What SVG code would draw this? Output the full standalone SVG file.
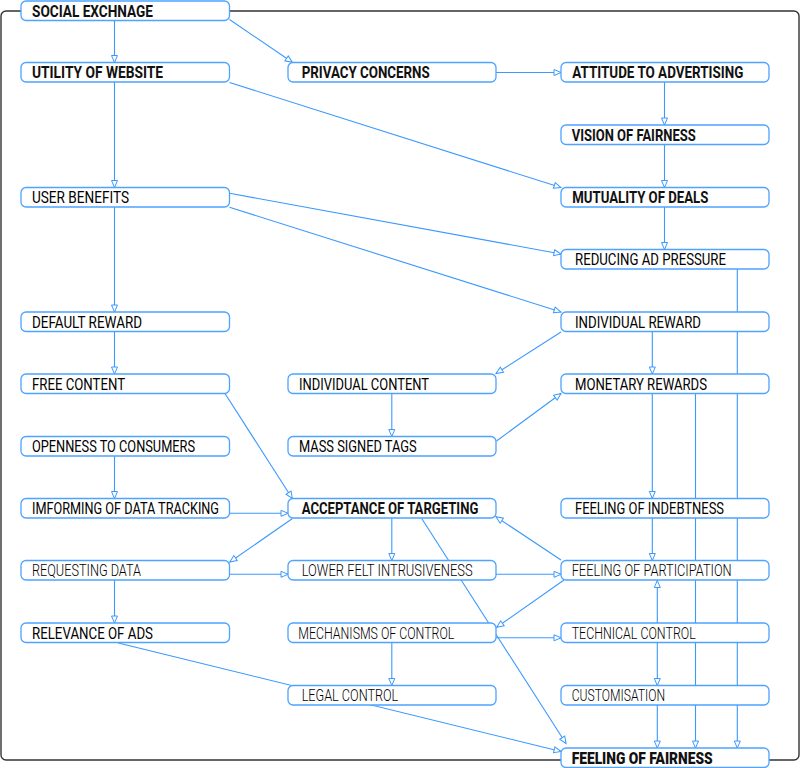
<svg xmlns="http://www.w3.org/2000/svg" width="800" height="768" viewBox="0 0 800 768">
<style>
.frame{fill:none;stroke:#333;stroke-width:1.4}
.box{fill:#fff;stroke:#4da3ff;stroke-width:1.3}
.t{font-family:Roboto,"Liberation Sans",sans-serif;font-size:16px;fill:#111}
.b{font-weight:700}
.m{font-weight:400;fill:#000}
.l{font-weight:300;fill:#000}
.h{font-weight:900}
#connectors path{fill:none;stroke:#3a98ff;stroke-width:1.1}
</style>
<defs>
<marker id="arr" viewBox="-1 -1 9 8" refX="7" refY="3" markerWidth="9" markerHeight="8" markerUnits="userSpaceOnUse" orient="auto" overflow="visible">
<path d="M0,0 L7,3 L0,6 Z" fill="#fff" stroke="#3a98ff" stroke-width="1"/>
</marker>
</defs>
<rect class="frame" x="1" y="11" width="798" height="749" rx="5"/>
<g id="connectors">
<path d="M114.5,20.5 V62.5" marker-end="url(#arr)"/>
<path d="M229.5,19.5 L292.3,62.3" marker-end="url(#arr)"/>
<path d="M496,72.5 H561" marker-end="url(#arr)"/>
<path d="M229.5,82.5 L561,187.5" marker-end="url(#arr)"/>
<path d="M114.5,82 V187.5" marker-end="url(#arr)"/>
<path d="M664.5,82 V125" marker-end="url(#arr)"/>
<path d="M664.5,144.5 V187.5" marker-end="url(#arr)"/>
<path d="M664.5,207 V249.5" marker-end="url(#arr)"/>
<path d="M229.5,193.3 L561,254" marker-end="url(#arr)"/>
<path d="M229.5,207.3 L561,312" marker-end="url(#arr)"/>
<path d="M114.5,207 V312" marker-end="url(#arr)"/>
<path d="M114.5,331.5 V374" marker-end="url(#arr)"/>
<path d="M737.3,269 V748" marker-end="url(#arr)"/>
<path d="M561,332 L496,373.5" marker-end="url(#arr)"/>
<path d="M652.3,331.5 V374" marker-end="url(#arr)"/>
<path d="M652.3,394 V498.5" marker-end="url(#arr)"/>
<path d="M695.5,394 V748" marker-end="url(#arr)"/>
<path d="M391.8,394 V436.5" marker-end="url(#arr)"/>
<path d="M496.5,441 L561,393.5" marker-end="url(#arr)"/>
<path d="M225,393.5 L292.3,498.5" marker-end="url(#arr)"/>
<path d="M114.5,456 V498.5" marker-end="url(#arr)"/>
<path d="M229.5,513.3 H288" marker-end="url(#arr)"/>
<path d="M292.5,518.5 L229.8,562" marker-end="url(#arr)"/>
<path d="M391.8,518 V560.5" marker-end="url(#arr)"/>
<path d="M421.7,518.5 L566,743.5" marker-end="url(#arr)"/>
<path d="M229.5,574.3 H288" marker-end="url(#arr)"/>
<path d="M114.5,580 V623" marker-end="url(#arr)"/>
<path d="M496,574.3 H561" marker-end="url(#arr)"/>
<path d="M652.3,518 V560.5" marker-end="url(#arr)"/>
<path d="M561,560 L496,516.8" marker-end="url(#arr)"/>
<path d="M564,580 L496.7,627.3" marker-end="url(#arr)"/>
<path d="M496,637.8 H561" marker-end="url(#arr)"/>
<path d="M391.8,642.5 V685.5" marker-end="url(#arr)"/>
<path d="M657.3,623 V580.5" marker-end="url(#arr)"/>
<path d="M657.3,642.5 V685.5" marker-end="url(#arr)"/>
<path d="M657.3,705 V748" marker-end="url(#arr)"/>
<path d="M118.3,643 L561,751.5" marker-end="url(#arr)"/>
</g>
<g id="social-exchange"><rect class="box" x="21" y="1" width="208.5" height="19.5" rx="5"/><text class="t b" x="32" y="16.7" textLength="121" lengthAdjust="spacingAndGlyphs">SOCIAL EXCHNAGE</text></g>
<g id="utility-of-website"><rect class="box" x="21" y="62.5" width="208.5" height="19.5" rx="5"/><text class="t b" x="32" y="78.2" textLength="131" lengthAdjust="spacingAndGlyphs">UTILITY OF WEBSITE</text></g>
<g id="privacy-concerns"><rect class="box" x="288" y="62.5" width="208" height="19.5" rx="5"/><text class="t b" x="301.7" y="78.2" textLength="128" lengthAdjust="spacingAndGlyphs">PRIVACY CONCERNS</text></g>
<g id="attitude-to-advertising"><rect class="box" x="561" y="62.5" width="208" height="19.5" rx="5"/><text class="t b" x="572.3" y="78.2" textLength="171" lengthAdjust="spacingAndGlyphs">ATTITUDE TO ADVERTISING</text></g>
<g id="vision-of-fairness"><rect class="box" x="561" y="125" width="208" height="19.5" rx="5"/><text class="t b" x="571.7" y="140.7" textLength="124" lengthAdjust="spacingAndGlyphs">VISION OF FAIRNESS</text></g>
<g id="user-benefits"><rect class="box" x="21" y="187.5" width="208.5" height="19.5" rx="5"/><text class="t m" x="32" y="203" textLength="97" lengthAdjust="spacingAndGlyphs">USER BENEFITS</text></g>
<g id="mutuality-of-deals"><rect class="box" x="561" y="187.5" width="208" height="19.5" rx="5"/><text class="t b" x="572.3" y="203" textLength="136" lengthAdjust="spacingAndGlyphs">MUTUALITY OF DEALS</text></g>
<g id="reducing-ad-pressure"><rect class="box" x="561" y="249.5" width="208" height="19.5" rx="5"/><text class="t m" x="575" y="265" textLength="151" lengthAdjust="spacingAndGlyphs">REDUCING AD PRESSURE</text></g>
<g id="default-reward"><rect class="box" x="21" y="312" width="208.5" height="19.5" rx="5"/><text class="t m" x="32" y="327.5" textLength="110" lengthAdjust="spacingAndGlyphs">DEFAULT REWARD</text></g>
<g id="individual-reward"><rect class="box" x="561" y="312" width="208" height="19.5" rx="5"/><text class="t m" x="575" y="327.5" textLength="126" lengthAdjust="spacingAndGlyphs">INDIVIDUAL REWARD</text></g>
<g id="free-content"><rect class="box" x="21" y="374" width="208.5" height="19.5" rx="5"/><text class="t m" x="32" y="389.5" textLength="93" lengthAdjust="spacingAndGlyphs">FREE CONTENT</text></g>
<g id="individual-content"><rect class="box" x="288" y="374" width="208" height="19.5" rx="5"/><text class="t m" x="299" y="389.5" textLength="130" lengthAdjust="spacingAndGlyphs">INDIVIDUAL CONTENT</text></g>
<g id="monetary-rewards"><rect class="box" x="561" y="374" width="208" height="19.5" rx="5"/><text class="t m" x="575" y="389.5" textLength="132" lengthAdjust="spacingAndGlyphs">MONETARY REWARDS</text></g>
<g id="openness-to-consumers"><rect class="box" x="21" y="436.5" width="208.5" height="19.5" rx="5"/><text class="t m" x="32" y="452" textLength="163" lengthAdjust="spacingAndGlyphs">OPENNESS TO CONSUMERS</text></g>
<g id="mass-signed-tags"><rect class="box" x="288" y="436.5" width="208" height="19.5" rx="5"/><text class="t m" x="299" y="452" textLength="117.7" lengthAdjust="spacingAndGlyphs">MASS SIGNED TAGS</text></g>
<g id="imforming-of-data-tracking"><rect class="box" x="21" y="498.5" width="208.5" height="19.5" rx="5"/><text class="t m" x="32" y="514" textLength="187" lengthAdjust="spacingAndGlyphs">IMFORMING OF DATA TRACKING</text></g>
<g id="acceptance-of-targeting"><rect class="box" x="288" y="498.5" width="208" height="19.5" rx="5"/><text class="t b" x="301.7" y="514" textLength="176.7" lengthAdjust="spacingAndGlyphs">ACCEPTANCE OF TARGETING</text></g>
<g id="feeling-of-indebtness"><rect class="box" x="561" y="498.5" width="208" height="19.5" rx="5"/><text class="t m" x="575" y="514" textLength="149" lengthAdjust="spacingAndGlyphs">FEELING OF INDEBTNESS</text></g>
<g id="requesting-data"><rect class="box" x="21" y="560.5" width="208.5" height="19.5" rx="5"/><text class="t l" x="32" y="576" textLength="109" lengthAdjust="spacingAndGlyphs">REQUESTING DATA</text></g>
<g id="lower-felt-intrusiveness"><rect class="box" x="288" y="560.5" width="208" height="19.5" rx="5"/><text class="t l" x="301.7" y="576" textLength="171" lengthAdjust="spacingAndGlyphs">LOWER FELT INTRUSIVENESS</text></g>
<g id="feeling-of-participation"><rect class="box" x="561" y="560.5" width="208" height="19.5" rx="5"/><text class="t l" x="571.7" y="576" textLength="160" lengthAdjust="spacingAndGlyphs">FEELING OF PARTICIPATION</text></g>
<g id="relevance-of-ads"><rect class="box" x="21" y="623" width="208.5" height="19.5" rx="5"/><text class="t m" x="32" y="638.5" textLength="121" lengthAdjust="spacingAndGlyphs" font-weight="500">RELEVANCE OF ADS</text></g>
<g id="mechanisms-of-control"><rect class="box" x="288" y="623" width="208" height="19.5" rx="5"/><text class="t l" x="298.3" y="638.5" textLength="156" lengthAdjust="spacingAndGlyphs">MECHANISMS OF CONTROL</text></g>
<g id="technical-control"><rect class="box" x="561" y="623" width="208" height="19.5" rx="5"/><text class="t l" x="571.7" y="638.5" textLength="124" lengthAdjust="spacingAndGlyphs">TECHNICAL CONTROL</text></g>
<g id="legal-control"><rect class="box" x="288" y="685.5" width="208" height="19.5" rx="5"/><text class="t l" x="301.7" y="701" textLength="96.6" lengthAdjust="spacingAndGlyphs">LEGAL CONTROL</text></g>
<g id="customisation"><rect class="box" x="561" y="685.5" width="208" height="19.5" rx="5"/><text class="t l" x="571.7" y="701" textLength="93.3" lengthAdjust="spacingAndGlyphs">CUSTOMISATION</text></g>
<g id="feeling-of-fairness"><rect class="box" x="561" y="748" width="208" height="19.5" rx="5"/><text class="t h" x="571.7" y="763.5" textLength="141" lengthAdjust="spacingAndGlyphs">FEELING OF FAIRNESS</text></g>
</svg>
